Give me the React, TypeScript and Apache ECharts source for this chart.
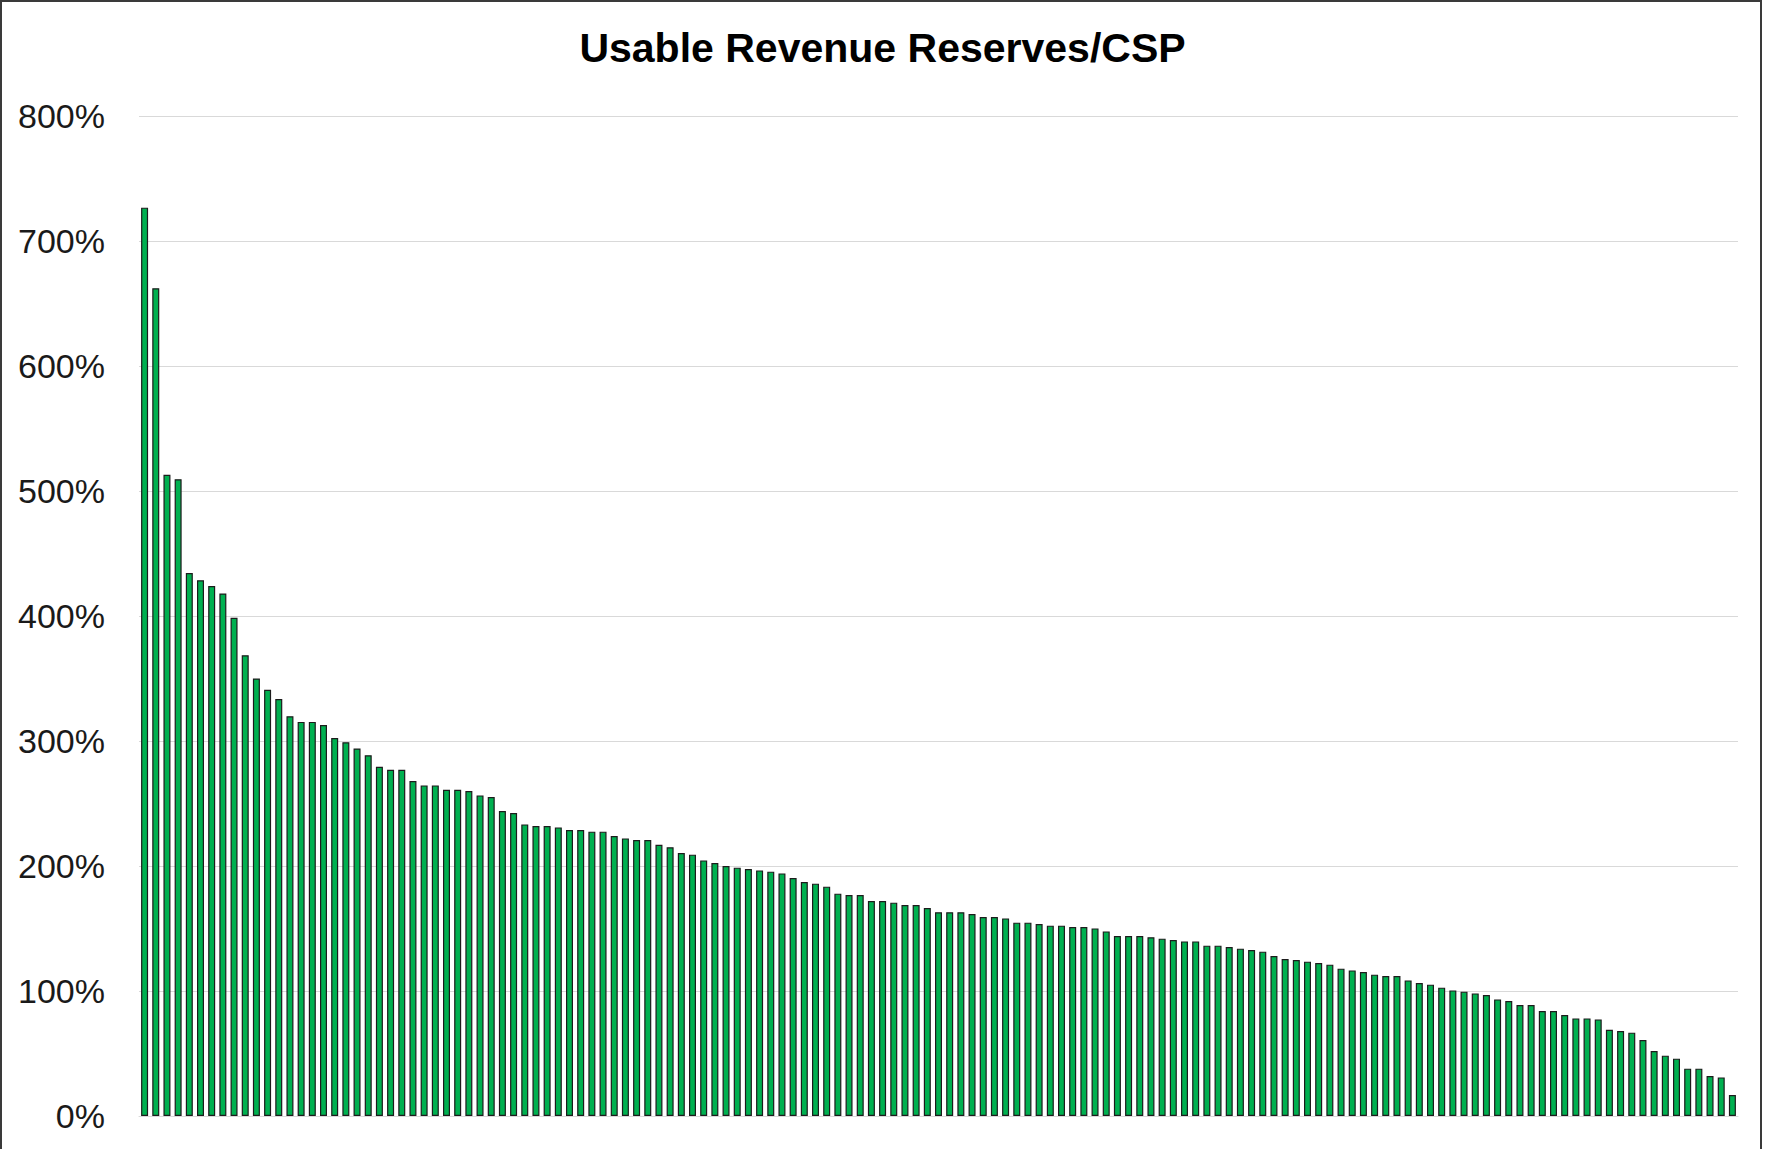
import React, { useEffect, useRef } from "react";
import * as echarts from "echarts";

// Usable revenue reserves as a share of CSP, one bar per entity, sorted descending (percent)
const reserveRatios: number[] = [
  726.7, 662.2, 513.0, 509.4, 434.4, 428.6, 424.0, 418.0, 398.6, 368.6,
  350.0, 341.0, 333.6, 319.8, 315.3, 315.3, 312.8, 302.4, 299.0, 294.0,
  288.6, 279.4, 277.0, 277.0, 268.0, 264.5, 264.5, 261.0, 261.0, 260.0,
  256.5, 255.2, 244.0, 242.4, 233.3, 232.0, 232.0, 230.9, 228.8, 228.8,
  227.5, 227.5, 224.0, 222.1, 220.8, 220.8, 217.0, 215.0, 210.4, 209.1,
  204.5, 202.4, 200.0, 198.7, 197.6, 196.5, 195.5, 194.1, 190.4, 187.2,
  185.9, 183.5, 177.9, 176.8, 176.8, 172.0, 172.0, 170.7, 168.8, 168.8,
  166.4, 163.0, 163.0, 163.0, 161.6, 159.2, 159.2, 158.1, 154.7, 154.7,
  153.6, 152.3, 152.3, 151.2, 151.2, 150.1, 147.7, 144.0, 144.0, 144.0,
  143.0, 141.9, 140.8, 139.7, 139.7, 136.3, 136.3, 135.2, 133.9, 132.8,
  131.5, 128.0, 125.6, 124.8, 123.5, 122.4, 121.1, 117.9, 116.5, 115.2,
  113.1, 112.0, 112.0, 108.5, 106.4, 105.1, 102.7, 100.5, 99.5, 98.1,
  96.8, 93.3, 92.0, 88.8, 88.8, 84.0, 84.0, 80.8, 78.1, 78.1,
  77.3, 69.0, 68.0, 66.7, 60.8, 52.0, 48.3, 45.9, 37.9, 37.9,
  32.0, 30.9, 16.8,
];

// Category keys (axis labels are not displayed)
const entities: string[] = reserveRatios.map((_, i) => `#${i + 1}`);

// Value axis range and step, in percent
const yMin = 0;
const yMax = 800;
const yStep = 100;

const chartTitle = "Usable Revenue Reserves/CSP";

export default function App() {
  const ref = useRef<HTMLDivElement>(null);

  useEffect(() => {
    if (!ref.current) return;
    const chart = echarts.init(ref.current, undefined, { renderer: "svg" });
    chart.setOption({
      animation: false,
      backgroundColor: "#ffffff",
      title: {
        text: chartTitle,
        left: "center",
        top: 22,
        textStyle: {
          fontFamily: "Liberation Sans",
          fontWeight: "bold",
          fontSize: 41,
          color: "#000000",
        },
      },
      graphic: [
        {
          type: "rect",
          silent: true,
          shape: { x: 1, y: 1, width: 1760, height: 1170 },
          style: { fill: "none", stroke: "#3a3a3a", lineWidth: 2 },
        },
      ],
      grid: { left: 139, right: 27, top: 116, bottom: 33, containLabel: false },
      xAxis: {
        type: "category",
        data: entities,
        axisLine: { show: true, lineStyle: { color: "#d9d9d9", width: 1 } },
        axisTick: { show: false },
        axisLabel: { show: false },
        splitLine: { show: false },
      },
      yAxis: {
        type: "value",
        min: yMin,
        max: yMax,
        interval: yStep,
        axisLine: { show: false },
        axisTick: { show: false },
        axisLabel: {
          formatter: "{value}%",
          fontFamily: "Liberation Sans",
          fontSize: 34,
          color: "#1a1a1a",
          margin: 34,
        },
        splitLine: { lineStyle: { color: "#d9d9d9", width: 1 } },
      },
      series: [
        {
          type: "bar",
          data: reserveRatios,
          barWidth: 7,
          itemStyle: {
            color: "#00b050",
            borderColor: "#1c1c1c",
            borderWidth: 1.2,
          },
        },
      ],
    });
    return () => chart.dispose();
  }, []);

  return (
    <div
      ref={ref}
      style={{ position: "absolute", left: 0, top: 0, width: 1765, height: 1149 }}
    />
  );
}
